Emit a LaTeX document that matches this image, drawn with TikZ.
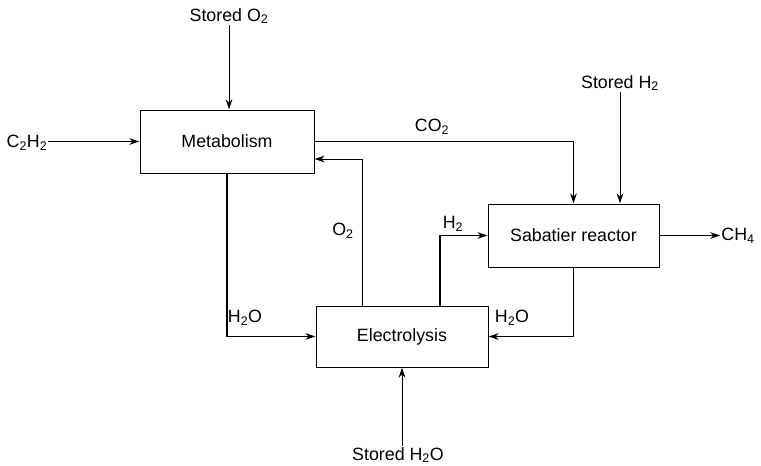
\documentclass[tikz,border=0pt]{standalone}
\usepackage{fontspec}
\setmainfont{Liberation Sans}
\usetikzlibrary{arrows.meta,positioning}

\begin{document}
\begin{tikzpicture}[
  x=1pt,y=-1pt,
  font=\fontsize{17.8}{21}\selectfont,
  unit/.style={
    draw,
    line width=1pt,
    minimum width=174pt,
    minimum height=63pt,
    inner sep=0pt,
    align=center
  },
  flow/.style={-{Stealth[length=10pt,width=6.5pt]},line width=1.6pt},
  feed/.style={-{Stealth[length=10pt,width=6.5pt]},line width=0.8pt},
  lbl/.style={inner sep=1pt}
]
\useasboundingbox (0,0) rectangle (761,466);
\node[unit] (metab) at (227,141.5) {Metabolism};
\node[unit,minimum width=172pt,minimum height=61pt,below right=132pt and 1pt of metab] (electro) {Electrolysis};
\node[unit,minimum width=171pt,above right=38pt and -1pt of electro] (sabatier) {Sabatier reactor};
\node[lbl] (sO2) at (229,16) {Stored O\textsubscript{2}};
\node[lbl] (c2h2) at (27,143) {C\textsubscript{2}H\textsubscript{2}};
\node[lbl] (sH2) at (620,83) {Stored H\textsubscript{2}};
\node[lbl] (ch4) at (738,236) {CH\textsubscript{4}};
\node[lbl] (sH2O) at (398,455) {Stored H\textsubscript{2}O};
\node[lbl] (co2) at (432,127) {CO\textsubscript{2}};
\node[lbl] (h2) at (453,224) {H\textsubscript{2}};
\node[lbl] (o2) at (343,231) {O\textsubscript{2}};
\node[lbl] (h2oL) at (245,318) {H\textsubscript{2}O};
\node[lbl] (h2oR) at (512,318) {H\textsubscript{2}O};
\draw[feed] (sO2.south) -- (sO2.south |- metab.north);
\draw[flow] (c2h2.east |- metab) -- (metab.west);
\draw[flow] (metab.east) -| (sabatier.north);
\draw[feed] (sH2.south) -- (sH2.south |- sabatier.north);
\draw[flow] (sabatier.east) -- (ch4.west |- sabatier.east);
\draw[flow] ([xshift=38pt]electro.north) |- (sabatier.west);
\draw[feed] ([xshift=-40pt]electro.north) |- ([yshift=-17.5pt]metab.east);
\draw[flow] (metab.south) |- (electro.west);
\draw[flow] (sabatier.south) |- (electro.east);
\draw[feed] (electro.south |- sH2O.north) -- (electro.south);
\end{tikzpicture}
\end{document}
